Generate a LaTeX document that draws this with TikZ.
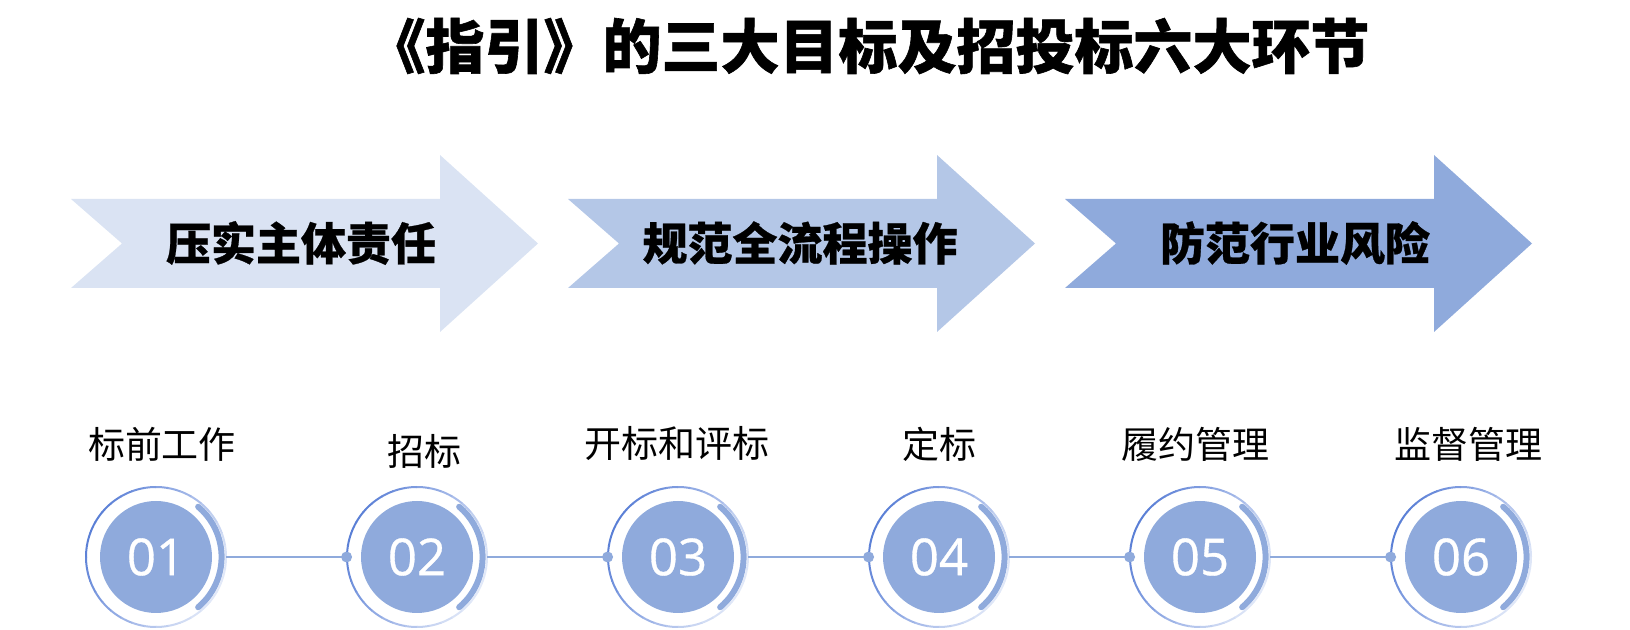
\documentclass[tikz,border=0pt]{standalone}
\usepackage{fontspec}
\setmainfont{Noto Sans CJK SC}
\newfontfamily\numfont[FakeBold=0.6]{Open Sans}
\usetikzlibrary{positioning}
\definecolor{blueA}{HTML}{DAE3F3}
\definecolor{blueB}{HTML}{B4C7E7}
\definecolor{blueC}{HTML}{8FAADC}
\definecolor{ringdark}{HTML}{5A7FD6}
\definecolor{ringlight}{HTML}{E2E9F8}

\begin{document}
\begin{tikzpicture}[x=0.5pt,y=-0.5pt,node distance=130.5pt,
  goal/.style={font=\fontsize{22.5}{27}\selectfont\bfseries\addfontfeatures{FakeBold=0.6}},
  phase/.style={font=\fontsize{18.5}{22}\selectfont},
  num/.style={circle,fill=blueC,minimum size=56pt,inner sep=0pt,text=white,font=\numfont\fontsize{25.5}{29}\selectfont},
  outer/.style={circle,minimum size=70pt,inner sep=0pt},
  link/.style={blueC,line width=1.3pt}]

  \useasboundingbox (0,0) rectangle (1630,630);

  \node[font=\fontsize{29.5}{35}\selectfont\bfseries\addfontfeatures{FakeBold=1}] (title) at (868,46) {《指引》的三大目标及招投标六大环节};

  % the three goals
  \foreach \x/\c in {0/blueA,497/blueB,994/blueC}
    \fill[\c] (71+\x,199) -- (440+\x,199) -- (440+\x,155) -- (538+\x,243.5)
      -- (440+\x,332) -- (440+\x,288) -- (71+\x,288) -- (122+\x,243.5) -- cycle;
  \node[goal] (g1) at (301,243) {压实主体责任};
  \node[goal] (g2) at (800,243) {规范全流程操作};
  \node[goal] (g3) at (1295,243) {防范行业风险};

  % the six stages
  \node[num] (c1) at (156,557) {01};
  \node[num] (c2) [right of = c1] {02};
  \node[num] (c3) [right of = c2] {03};
  \node[num] (c4) [right of = c3] {04};
  \node[num] (c5) [right of = c4] {05};
  \node[num] (c6) [right of = c5] {06};

  \foreach \i in {1,...,6} {
    \node[outer] (o\i) at (c\i) {};
    \foreach \a in {0,10,...,350} {
      \pgfmathsetmacro\m{50+50*cos(\a-150)}
      \draw[ringdark!\m!ringlight,line width=1pt] (c\i.center) ++(\a:35pt) arc[start angle=\a,end angle=\a+10.5,radius=35pt];
    }
    \draw[blueC,line width=3pt,line cap=round] (c\i.center) ++(-50:32.8pt) arc[start angle=-50,end angle=50,radius=32.8pt];
  }

  \foreach \i [evaluate=\i as \j using int(\i+1)] in {1,...,5} {
    \draw[link] (o\i.east) -- (o\j.west);
    \fill[blueC] (o\j.west) circle (2.75pt);
  }

  \node[phase] (l1) at (162,444) {标前工作};
  \node[phase] (l2) at (424,451) {招标};
  \node[phase] (l3) at (677,444) {开标和评标};
  \node[phase] (l4) at (939,444) {定标};
  \node[phase] (l5) at (1195,444) {履约管理};
  \node[phase] (l6) at (1468,444) {监督管理};
\end{tikzpicture}
\end{document}
